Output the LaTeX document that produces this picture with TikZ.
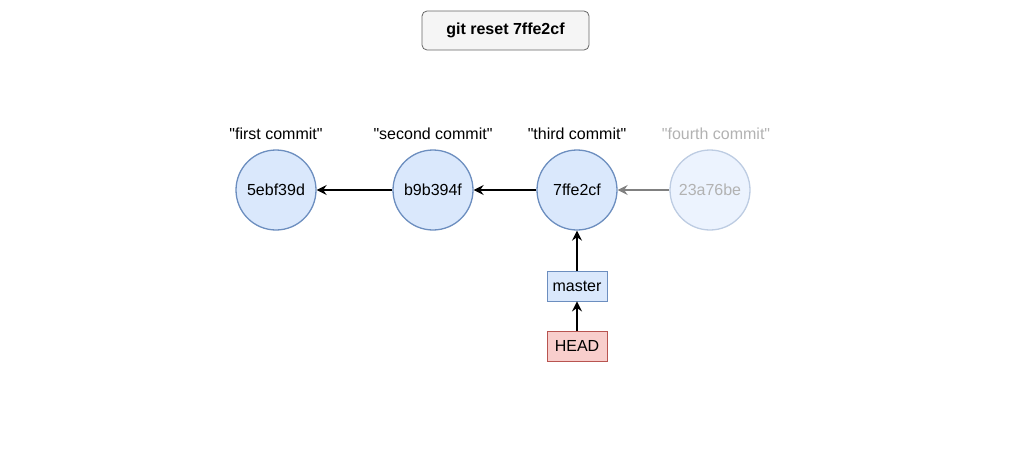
\documentclass[tikz,border=0pt]{standalone}
\usepackage{fontspec}
\setmainfont{Liberation Sans}[Ligatures=TeXOff]
\usetikzlibrary{arrows.meta}
\definecolor{cfill}{HTML}{DAE8FC}
\definecolor{cdraw}{HTML}{6C8EBF}
\definecolor{hfill}{HTML}{F8CECC}
\definecolor{hdraw}{HTML}{B85450}
\definecolor{tfill}{HTML}{F5F5F5}
\definecolor{tdraw}{HTML}{666666}
\begin{document}
\begin{tikzpicture}[x=1pt,y=-1pt,
  commit/.style={circle,draw=cdraw,fill=cfill,line width=1.3pt,minimum size=80pt,inner sep=0pt,font=\fontsize{16}{18}\selectfont},
  faded/.style={commit,draw=cdraw!45,fill=cfill!50,text=black!30},
  lbl/.style={font=\fontsize{16}{18}\selectfont},
  refbox/.style={draw=cdraw,fill=cfill,line width=0.9pt,minimum width=60pt,minimum height=30pt,inner sep=0pt,font=\fontsize{16}{18}\selectfont},
  conn/.style={line width=1.7pt,-{Stealth[length=10pt,width=10pt,inset=3.5pt]}}]
\useasboundingbox (0,0) rectangle (1011,471);
\node[draw=tdraw,fill=tfill,rounded corners=5pt,line width=0.8pt,minimum width=167pt,minimum height=39pt,font=\bfseries\fontsize{16}{18}\selectfont] (title) at (505.5,30.5) {git reset 7ffe2cf};
\node[commit] (c1) at (276,190) {5ebf39d};
\node[commit] (c2) at (433,190) {b9b394f};
\node[commit] (c3) at (577,190) {7ffe2cf};
\node[faded] (c4) at (710,190) {23a76be};
\node[lbl] (l1) at (276,134) {"first commit"};
\node[lbl] (l2) at (433,134) {"second commit"};
\node[lbl] (l3) at (577,134) {"third commit"};
\node[lbl,text=black!30] (l4) at (716,134) {"fourth commit"};
\node[refbox] (master) at (577,286) {master};
\node[refbox,draw=hdraw,fill=hfill] (head) at (577,346) {HEAD};
\draw[conn] (c2) -- (c1);
\draw[conn] (c3) -- (c2);
\draw[conn,draw=black!50,-{Stealth[length=10pt,width=10pt,inset=3.5pt,fill=black!50]}] (c4) -- (c3);
\draw[conn] (master) -- (c3);
\draw[conn] (head) -- (master);
\end{tikzpicture}
\end{document}
